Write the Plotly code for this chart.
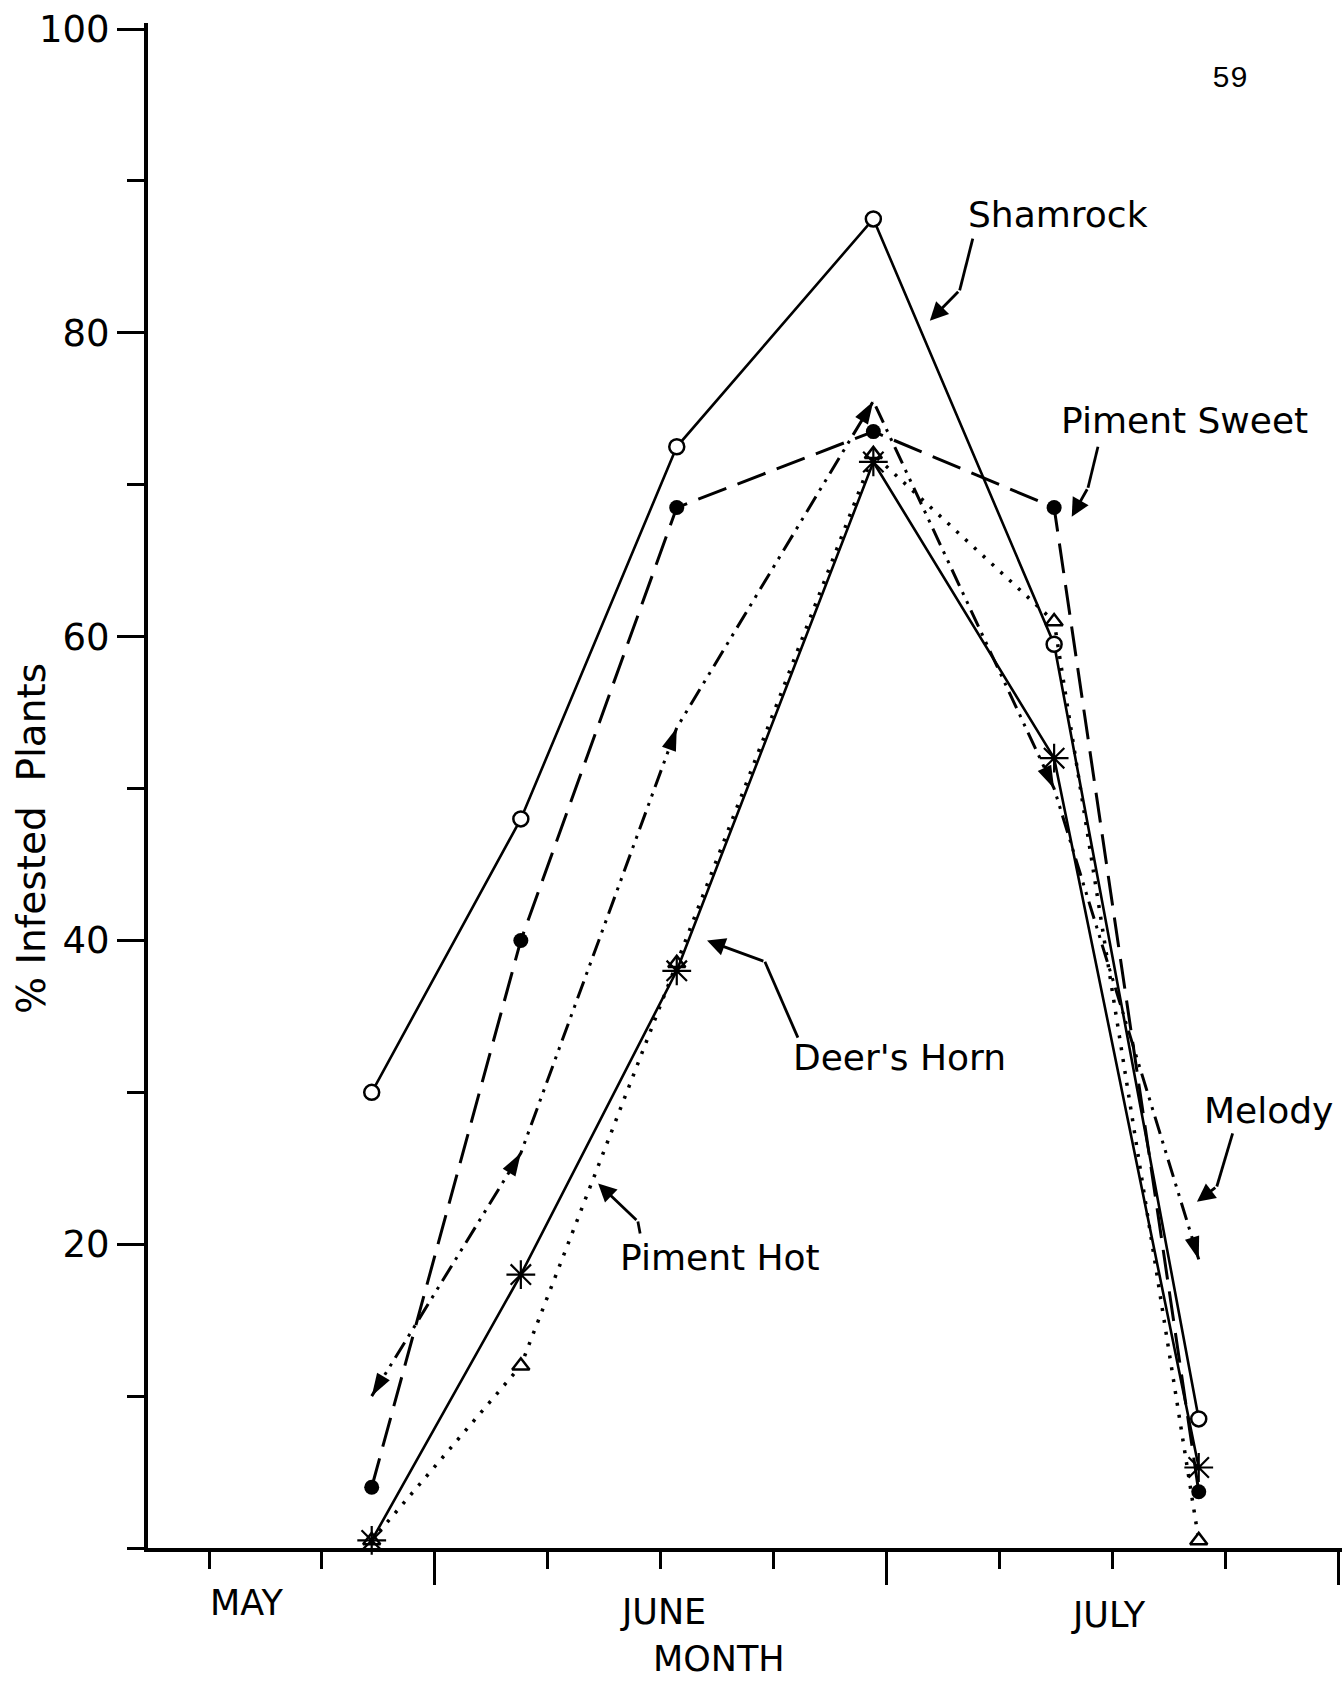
import plotly.graph_objects as go

# Sampling dates as fractional months (1 = 1 June, 2 = 1 July, 3 = 1 August)
sample_month = [0.86, 1.19, 1.535, 1.97, 2.37, 2.69]

# % infested plants per cultivar
shamrock = [30, 48, 72.5, 87.5, 59.5, 8.5]
piment_sweet = [4, 40, 68.5, 73.5, 68.5, 3.7]
melody = [10, 26, 54, 75.5, 50, 19]
piment_hot = [0.5, 12, 38.5, 72, 61, 0.5]
deers_horn = [0.5, 18, 38, 71.5, 52, 5.3]

y_ticks = [20, 40, 60, 80, 100]
month_names = ["MAY", "JUNE", "JULY"]
month_label_pos = [0.584, 1.504, 2.491]

# Arrow-head markers on the Melody line point along the direction of travel
melody_arrow_angle = [211, 31, 20, 31, 155, 163]

FONT = "DejaVu Sans"
INK = "black"

fig = go.Figure()

series = [
    dict(name="Shamrock", y=shamrock, dash="solid", width=2.6,
         marker=dict(symbol="circle", size=15, color="white",
                     line=dict(color=INK, width=2.5))),
    dict(name="Piment Sweet", y=piment_sweet, dash="30px,12px", width=3,
         marker=dict(symbol="circle", size=15, color=INK)),
    dict(name="Melody", y=melody, dash="18px,7px,3px,7px,3px,7px", width=3,
         marker=dict(symbol="arrow", size=24, color=INK,
                     angle=melody_arrow_angle, angleref="up")),
    dict(name="Piment Hot", y=piment_hot, dash="3px,9px", width=3.5,
         marker=dict(symbol="triangle-up", size=15, color="white",
                     line=dict(color=INK, width=2.5))),
    dict(name="Deer's Horn", y=deers_horn, dash="solid", width=2.6,
         marker=dict(symbol="asterisk-open", size=24, color=INK,
                     line=dict(color=INK, width=2.2))),
]

for s in series:
    fig.add_trace(go.Scatter(
        x=sample_month, y=s["y"], name=s["name"], mode="lines+markers",
        line=dict(color=INK, width=s["width"], dash=s["dash"]),
        marker=s["marker"], cliponaxis=False, showlegend=False,
    ))

# Callout labels with arrows: (label, label x, label y, anchor, tail, bend, tip)
callouts = [
    ("Shamrock", 2.378, 87.8, "center", (2.190, 86.2), (2.161, 82.8), (2.095, 80.8)),
    ("Piment Sweet", 2.659, 74.2, "center", (2.467, 72.5), (2.445, 69.8), (2.409, 67.9)),
    ("Deer's Horn", 2.027, 32.3, "center", (1.803, 33.6), (1.730, 38.6), (1.602, 40.0)),
    ("Piment Hot", 1.631, 19.1, "center", (1.454, 20.7), (1.449, 21.5), (1.361, 24.0)),
    ("Melody", 2.697, 28.8, "left", (2.765, 27.3), (2.730, 23.8), (2.686, 22.8)),
]

shapes = []
annotations = []
for label, lx, ly, anchor, tail, bend, tip in callouts:
    annotations.append(dict(
        x=lx, y=ly, xref="x", yref="y", text=label, showarrow=False,
        xanchor=anchor, yanchor="middle",
        font=dict(family=FONT, size=36, color=INK),
    ))
    shapes.append(dict(
        type="line", xref="x", yref="y", x0=tail[0], y0=tail[1],
        x1=bend[0], y1=bend[1], line=dict(color=INK, width=2.8),
    ))
    annotations.append(dict(
        x=tip[0], y=tip[1], xref="x", yref="y", ax=bend[0], ay=bend[1],
        axref="x", ayref="y", text="", showarrow=True, arrowhead=2,
        arrowsize=1.3, arrowwidth=2.8, arrowcolor=INK, standoff=0,
    ))

# Month names under the axis and the axis titles
month_label_y = [-0.036, -0.042, -0.044]
for name, pos, yy in zip(month_names, month_label_pos, month_label_y):
    annotations.append(dict(
        x=pos, y=yy, xref="x", yref="paper", text=name, showarrow=False,
        xanchor="center", yanchor="middle",
        font=dict(family=FONT, size=35, color=INK),
    ))
annotations.append(dict(
    x=1.628, y=-0.073, xref="x", yref="paper", text="MONTH", showarrow=False,
    xanchor="center", yanchor="middle",
    font=dict(family=FONT, size=35, color=INK),
))
annotations.append(dict(
    x=-0.097, y=0.465, xref="paper", yref="paper", text="% Infested  Plants",
    textangle=-90, showarrow=False, xanchor="center", yanchor="middle",
    font=dict(family=FONT, size=39, color=INK),
))
# Page number
annotations.append(dict(
    x=0.906, y=0.963, xref="paper", yref="paper", text="59", showarrow=False,
    xanchor="center", yanchor="middle",
    font=dict(family="Liberation Mono", size=30, color=INK),
))

fig.update_layout(
    width=1342, height=1681,
    margin=dict(l=148, r=0, t=23, b=133),
    paper_bgcolor="white", plot_bgcolor="white",
    font=dict(family=FONT, color=INK),
    shapes=shapes, annotations=annotations,
    showlegend=False,
)

fig.update_xaxes(
    range=[0.365, 3.007], showgrid=False, zeroline=False,
    showline=True, linecolor=INK, linewidth=4,
    tickmode="array", tickvals=[1, 2, 3], showticklabels=False,
    ticks="outside", ticklen=33, tickwidth=3, tickcolor=INK,
    minor=dict(ticks="outside", ticklen=17, tickwidth=3, tickcolor=INK,
               dtick=0.25, tick0=0),
)
fig.update_yaxes(
    range=[0, 100.4], showgrid=False, zeroline=False,
    showline=True, linecolor=INK, linewidth=4,
    tickmode="array", tickvals=y_ticks, ticktext=[str(v) for v in y_ticks],
    ticks="outside", ticklen=27, tickwidth=3, tickcolor=INK,
    tickfont=dict(family=FONT, size=37, color=INK),
    minor=dict(ticks="outside", ticklen=17, tickwidth=3, tickcolor=INK,
               dtick=10, tick0=0),
)

fig.write_html("out.html")
